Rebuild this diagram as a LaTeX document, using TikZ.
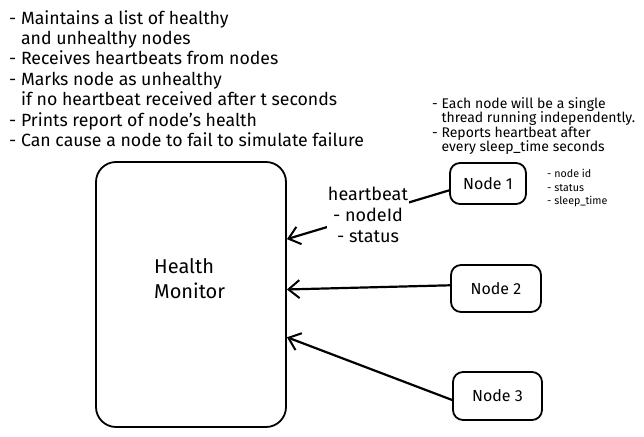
\documentclass[tikz,border=0pt]{standalone}
\usepackage{fontspec}
\setmainfont{Fira Sans}
\usetikzlibrary{arrows.meta}
\tikzstyle{box}=[draw,line width=1.8pt,rounded corners=10pt,inner sep=0pt,font=\fontsize{16}{18}\selectfont]
\tikzstyle{beat}=[line width=2.2pt,-{Straight Barb[length=11pt,width=18pt,line width=2pt]}]
\tikzstyle{note}=[align=left,anchor=north west,inner sep=0pt]
\newcommand{\gap}{\phantom{- }}

\begin{document}
\begin{tikzpicture}[x=1pt,y=-1pt]
  \useasboundingbox (0,0) rectangle (644,436);

  % what the monitor does
  \node[note,font=\fontsize{17.7}{20.4}\selectfont] (duties) at (9,10)
    {- Maintains a list of healthy\\ \gap and unhealthy nodes\\- Receives heartbeats from nodes\\- Marks node as unhealthy\\ \gap if no heartbeat received after t seconds\\- Prints report of node's health\\- Can cause a node to fail to simulate failure};

  % what a node does
  \node[note,font=\fontsize{14}{14.5}\selectfont] (nodenote) at (432,97)
    {- Each node will be a single\\ \gap thread running independently.\\- Reports heartbeat after\\ \gap every sleep\_time seconds};

  \node[box,minimum width=190pt,minimum height=265pt,rounded corners=20pt] (hm) at (191,294.5) {};
  \node[note,font=\fontsize{20}{25}\selectfont] (hmtext) at (154,258) {Health\\Monitor};

  \node[box,minimum width=76pt,minimum height=41pt] (n1) at (488,183.5) {Node 1};
  \node[box,minimum width=90pt,minimum height=47pt] (n2) at (496,288.5) {Node 2};
  \node[box,minimum width=89pt,minimum height=48pt] (n3) at (497.5,396) {Node 3};

  \node[note,font=\fontsize{10.7}{13.5}\selectfont] (fields) at (547,169)
    {- node id\\- status\\- sleep\_time};

  \draw[beat] (n1.190) -- node[fill=white,align=center,inner sep=1pt,font=\fontsize{18}{21}\selectfont] {heartbeat\\- nodeId\\- status} (hm.30);
  \draw[beat] (n2.176) -- (hm.3);
  \draw[beat] (n3.185) -- (hm.-24);
\end{tikzpicture}
\end{document}
